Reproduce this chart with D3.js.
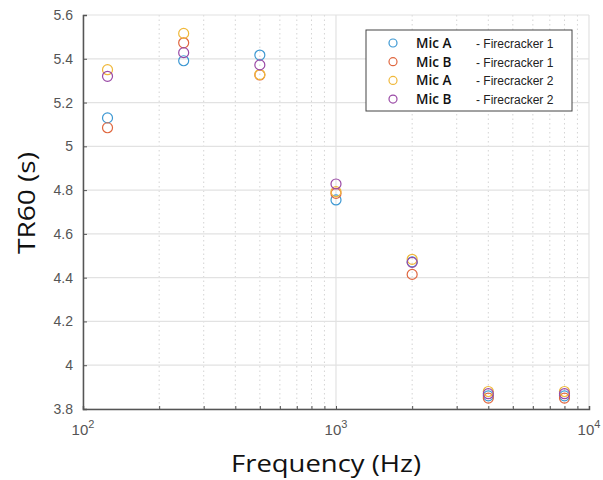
<!DOCTYPE html>
<html>
<head>
<meta charset="utf-8">
<script src="https://cdn.jsdelivr.net/npm/d3@7"></script>
<style>
  body { margin: 0; background: #fff; }
  svg { display: block; }
</style>
</head>
<body>
<div id="chart"></div>
<script>
// chart values
let frequencies = [125, 250, 500, 1000, 2000, 4000, 8000]
let micA_fc1 = [5.13, 5.391, 5.417, 4.755, 4.472, 3.86, 3.86]
let micB_fc1 = [5.085, 5.473, 5.326, 4.785, 4.415, 3.85, 3.85]
let micA_fc2 = [5.35, 5.516, 5.328, 4.793, 4.484, 3.88, 3.88]
let micB_fc2 = [5.32, 5.428, 5.372, 4.828, 4.470, 3.87, 3.87]
let seriesNames = ['Mic A', 'Mic B', 'Mic A', 'Mic B']
let seriesNotes = ['- Firecracker 1', '- Firecracker 1', '- Firecracker 2', '- Firecracker 2']
let seriesColors = ['#3d98d3', '#e0673f', '#f0b83a', '#9a4aa6']
let yTicks = [3.8, 4, 4.2, 4.4, 4.6, 4.8, 5, 5.2, 5.4, 5.6]
let xMajor = [100, 1000, 10000]

let width = 603, height = 480
let plot = { left: 83, right: 589, top: 15, bottom: 409 }

let svg = d3.select('#chart').append('svg')
  .attr('width', width)
  .attr('height', height)

let x = d3.scaleLog().domain([100, 10000]).range([plot.left, plot.right])
let y = d3.scaleLinear().domain([3.8, 5.6]).range([plot.bottom, plot.top])

// minor log grid (dotted)
let minor = []
;[100, 1000].forEach(dec => {
  for (let k = 2; k <= 9; k++) minor.push(dec * k)
})
svg.append('g').selectAll('line')
  .data(minor)
  .join('line')
  .attr('x1', d => x(d)).attr('x2', d => x(d))
  .attr('y1', plot.top).attr('y2', plot.bottom)
  .attr('stroke', '#d4d4d4')
  .attr('stroke-width', 1)
  .attr('stroke-dasharray', '1.5,3')

// major grid
svg.append('g').selectAll('line')
  .data(yTicks)
  .join('line')
  .attr('x1', plot.left).attr('x2', plot.right)
  .attr('y1', d => y(d)).attr('y2', d => y(d))
  .attr('stroke', '#e2e2e2')
  .attr('stroke-width', 1.2)
svg.append('g').selectAll('line')
  .data(xMajor)
  .join('line')
  .attr('x1', d => x(d)).attr('x2', d => x(d))
  .attr('y1', plot.top).attr('y2', plot.bottom)
  .attr('stroke', '#e2e2e2')
  .attr('stroke-width', 1.2)

// axes
let yAxis = svg.append('g')
  .attr('transform', `translate(${plot.left},0)`)
  .call(d3.axisLeft(y).tickValues(yTicks).tickSize(-4).tickPadding(10).tickFormat(d3.format('~g')))
let xAxis = svg.append('g')
  .attr('transform', `translate(0,${plot.bottom})`)
  .call(d3.axisBottom(x).tickValues(xMajor.concat(minor)).tickSize(-3).tickFormat(''))
;[yAxis, xAxis].forEach(a => {
  a.select('.domain').attr('stroke', '#555').attr('stroke-width', 1.5)
  a.selectAll('.tick line').attr('stroke', '#555')
})
yAxis.selectAll('.tick text')
  .attr('fill', '#555')
  .style('font-family', 'Liberation Sans, Arial, sans-serif')
  .style('font-size', '14px')

// x tick labels as 10^n
let xl = svg.append('g').selectAll('text')
  .data(xMajor)
  .join('text')
  .attr('x', d => x(d))
  .attr('y', plot.bottom + 26)
  .attr('text-anchor', 'middle')
  .attr('fill', '#555')
  .style('font-family', 'Liberation Sans, Arial, sans-serif')
  .style('font-size', '15px')
xl.append('tspan').text('10')
xl.append('tspan').attr('dy', -7).style('font-size', '11px').text(d => Math.round(Math.log10(d)))

// axis titles
svg.append('text')
  .attr('x', 326)
  .attr('y', 472)
  .attr('text-anchor', 'middle')
  .attr('textLength', 190)
  .attr('lengthAdjust', 'spacingAndGlyphs')
  .style('font-family', 'Open Sans, Liberation Sans, sans-serif')
  .style('font-size', '24px')
  .attr('fill', '#111')
  .text('Frequency (Hz)')
svg.append('text')
  .attr('transform', `translate(35,203) rotate(-90)`)
  .attr('text-anchor', 'middle')
  .attr('textLength', 102)
  .attr('lengthAdjust', 'spacingAndGlyphs')
  .style('font-family', 'Open Sans, Liberation Sans, sans-serif')
  .style('font-size', '24px')
  .attr('fill', '#111')
  .text('TR60 (s)')

// markers
let allSeries = [micA_fc1, micB_fc1, micA_fc2, micB_fc2]
allSeries.forEach((vals, i) => {
  svg.append('g').selectAll('circle')
    .data(vals)
    .join('circle')
    .attr('cx', (d, j) => x(frequencies[j]))
    .attr('cy', d => y(d))
    .attr('r', 5)
    .attr('fill', 'none')
    .attr('stroke', seriesColors[i])
    .attr('stroke-width', 1.2)
})

// legend
let legend = svg.append('g')
legend.append('rect')
  .attr('x', 366).attr('y', 30)
  .attr('width', 206).attr('height', 81)
  .attr('fill', '#fff')
  .attr('stroke', '#444')
  .attr('stroke-width', 1)
seriesNames.forEach((name, i) => {
  let ly = 43 + i * 18.7
  legend.append('circle')
    .attr('cx', 393).attr('cy', ly)
    .attr('r', 4)
    .attr('fill', 'none')
    .attr('stroke', seriesColors[i])
    .attr('stroke-width', 1.2)
  legend.append('text')
    .attr('x', 416).attr('y', ly + 5)
    .style('font-family', 'Open Sans, Liberation Sans, sans-serif')
    .style('font-size', '13.5px')
    .style('font-weight', 600)
    .attr('fill', '#111')
    .text(name)
  legend.append('text')
    .attr('x', 476).attr('y', ly + 5)
    .style('font-family', 'Liberation Sans, Arial, sans-serif')
    .style('font-size', '12px')
    .attr('fill', '#222')
    .text(seriesNotes[i])
})
</script>
</body>
</html>
